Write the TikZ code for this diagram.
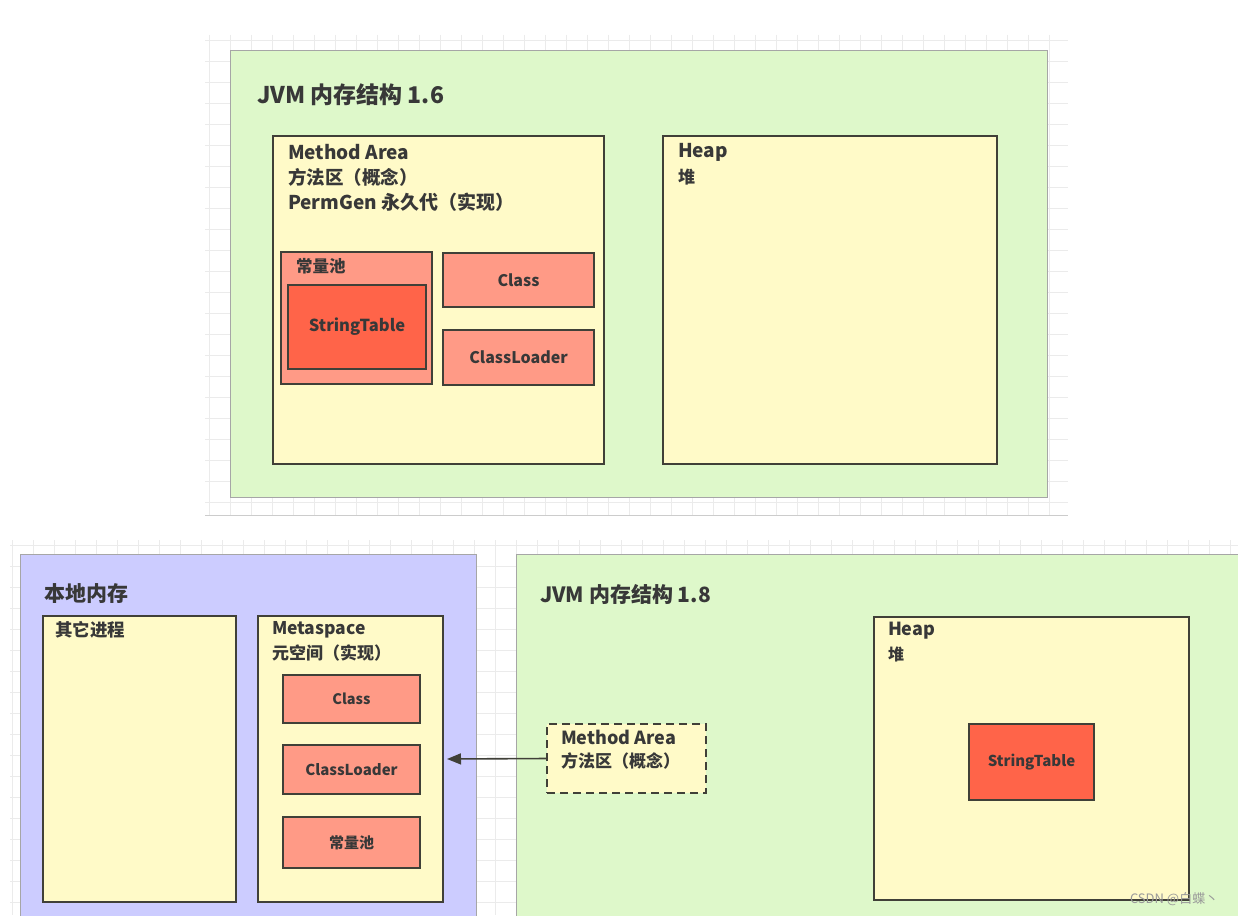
\documentclass[tikz,border=0pt]{standalone}
\usepackage{fontspec}
\setmainfont{Noto Sans CJK SC}
\usetikzlibrary{arrows.meta}
\definecolor{jgreen}{HTML}{DEF8CA}
\definecolor{jyellow}{HTML}{FFFAC8}
\definecolor{jsalmon}{HTML}{FF9A86}
\definecolor{jtomato}{HTML}{FF6449}
\definecolor{jblue}{HTML}{CCCCFF}
\definecolor{jtext}{HTML}{383838}
\definecolor{jborder}{HTML}{404038}
\definecolor{jgrid}{HTML}{EBEBEB}
\begin{document}
\begin{tikzpicture}[x=1pt,y=-1pt,
  every node/.style={inner sep=0pt, outer sep=0pt},
  outerbox/.style={draw=gray!70, line width=1pt, anchor=north west},
  areabox/.style={draw=jborder, line width=2pt, fill=jyellow, anchor=north west},
  redbox/.style={draw=jborder, line width=2pt, fill=jsalmon, anchor=north west, text=jtext},
  hotbox/.style={draw=jborder, line width=2pt, fill=jtomato, anchor=north west, text=jtext},
  lbl/.style={anchor=west, text=jtext, font=\fontsize{#1}{#1}\selectfont\bfseries},
  fsz/.style={font=\fontsize{#1}{#1}\selectfont\bfseries},
  gridline/.style={draw=jgrid, line width=0.6pt}
]
\useasboundingbox (0,0) rectangle (1238,915);
\clip (0,0) rectangle (1238,915);
\fill[white] (0,0) rectangle (1238,915);
% background grids
\foreach \x in {209,230,...,1068} \draw[gridline] (\x,35) -- (\x,515);
\foreach \y in {40,61,...,515} \draw[gridline] (205,\y) -- (1068,\y);
\foreach \x in {12,33,...,1238} \draw[gridline] (\x,540) -- (\x,915);
\foreach \y in {545,566,...,915} \draw[gridline] (10,\y) -- (1238,\y);
\draw[gray!40, line width=0.8pt] (205,515) -- (1068,515);

% ---------- JVM 1.6 ----------
\node[outerbox, fill=jgreen, minimum width=817, minimum height=446] (jvm6) at (230,51) {};
\node[lbl=23] (t6) at (257,95) {JVM 内存结构 1.6};

\node[areabox, minimum width=331, minimum height=328] (ma6) at (273,136) {};
\node[lbl=19] (ma6a) at (288,152) {Method Area};
\node[lbl=18.5] (ma6b) at (288,177) {方法区（概念）};
\node[lbl=19] (ma6c) at (288,202) {PermGen 永久代（实现）};

\node[redbox, minimum width=151, minimum height=132] (pool6) at (281,252) {};
\node[lbl=16.5] (pool6t) at (296,266) {常量池};
\node[hotbox, minimum width=138, minimum height=84, fsz=16.5] (st6) at (288,285) {StringTable};
\node[redbox, minimum width=151, minimum height=54, fsz=16] (cls6) at (443,253) {Class};
\node[redbox, minimum width=151, minimum height=55, fsz=16] (cl6) at (443,330) {ClassLoader};

\node[areabox, minimum width=334, minimum height=328] (heap6) at (663,136) {};
\node[lbl=19] (heap6a) at (678,152) {Heap};
\node[lbl=17] (heap6b) at (678,177) {堆};

% ---------- Native memory ----------
\node[outerbox, fill=jblue, minimum width=456, minimum height=380] (native) at (20,554) {};
\node[lbl=21] (nt) at (44,594) {本地内存};

\node[areabox, minimum width=193, minimum height=286] (other) at (43,616) {};
\node[lbl=17.5] (othert) at (55,630) {其它进程};

\node[areabox, minimum width=185, minimum height=286] (meta) at (258,616) {};
\node[lbl=17.5] (metaa) at (272,630) {Metaspace};
\node[lbl=17] (metab) at (272,653) {元空间（实现）};
\node[redbox, minimum width=137, minimum height=48, fsz=14.5] (mcls) at (283,675) {Class};
\node[redbox, minimum width=137, minimum height=49, fsz=15] (mcl) at (283,745) {ClassLoader};
\node[redbox, minimum width=137, minimum height=51, fsz=15] (mpool) at (283,817) {常量池};

% ---------- JVM 1.8 ----------
\node[outerbox, fill=jgreen, minimum width=740, minimum height=380] (jvm8) at (516,554) {};
\node[lbl=21] (t8) at (540,594) {JVM 内存结构 1.8};

\node[areabox, dashed, dash pattern=on 8pt off 5pt, minimum width=159, minimum height=69] (ma8) at (547,724) {};
\node[lbl=18] (ma8a) at (561,737) {Method Area};
\node[lbl=17] (ma8b) at (561,761) {方法区（概念）};

\node[areabox, minimum width=315, minimum height=283] (heap8) at (874,617) {};
\node[lbl=18] (heap8a) at (888,631) {Heap};
\node[lbl=16] (heap8b) at (888,654) {堆};
\node[hotbox, minimum width=125, minimum height=76, fsz=15] (st8) at (969,724) {StringTable};

% arrow
\draw[jborder, line width=1.6pt, -{Triangle[length=14pt,width=11pt]}, shorten >=4pt]
  (ma8.west) -- (meta.east);

% watermark
\node[anchor=west, text=gray!80, font=\fontsize{13}{13}\selectfont] (wm) at (1130,899) {CSDN @白蝶丶};
\end{tikzpicture}
\end{document}
